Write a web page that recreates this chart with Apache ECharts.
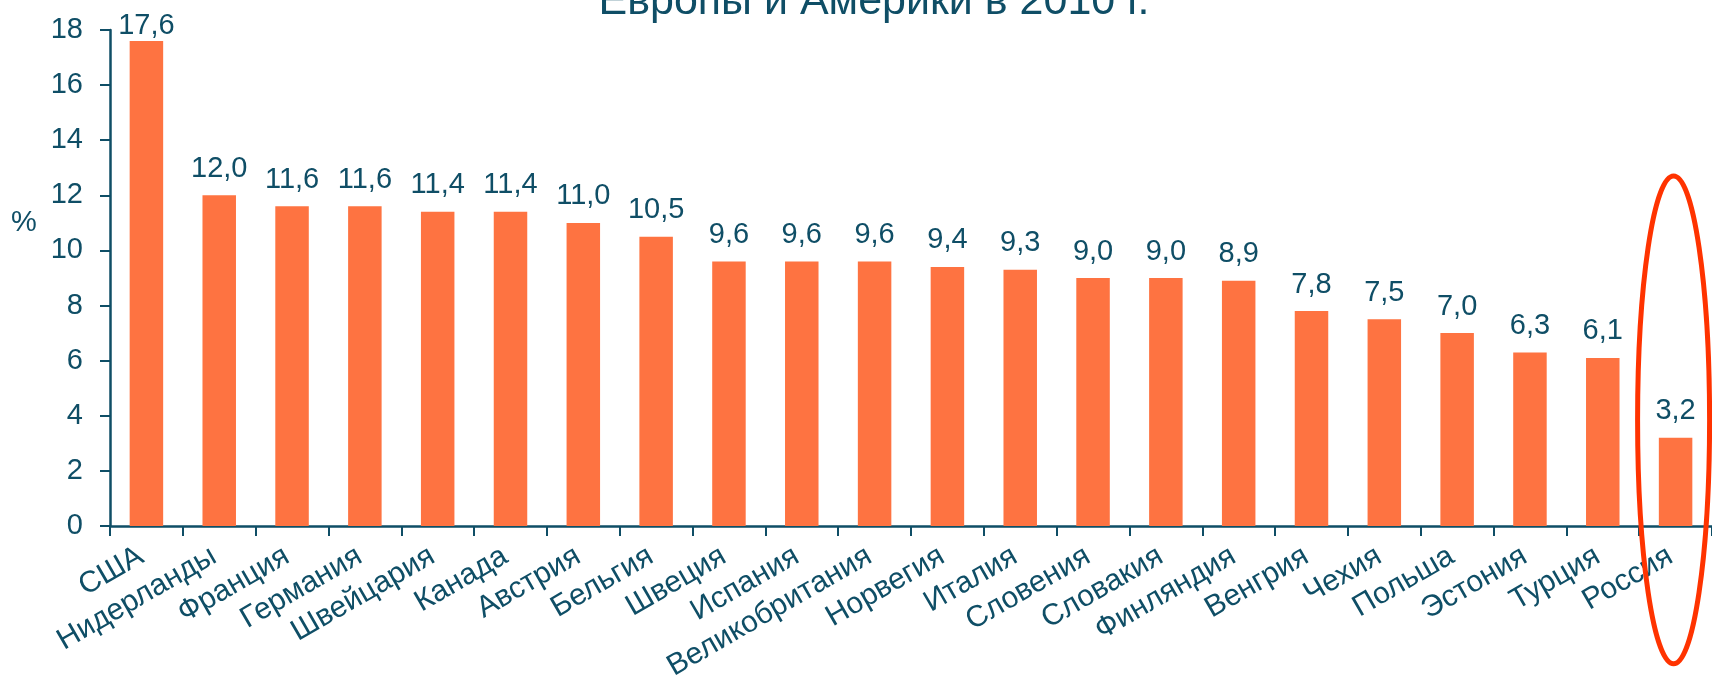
<!DOCTYPE html>
<html lang="ru">

<head>
    <meta charset="UTF-8">
    <script src="https://cdn.jsdelivr.net/npm/echarts@6/dist/echarts.min.js"></script>
    <title>Расходы на здравоохранение</title>
    <style>
        html, body { margin: 0; padding: 0; background: #fff; }
        #myChart { width: 1712px; height: 680px; }
    </style>
</head>

<body>
    <div id="myChart"></div>
    <script>
        var countries = ['США', 'Нидерланды', 'Франция', 'Германия', 'Швейцария', 'Канада', 'Австрия',
            'Бельгия', 'Швеция', 'Испания', 'Великобритания', 'Норвегия', 'Италия', 'Словения',
            'Словакия', 'Финляндия', 'Венгрия', 'Чехия', 'Польша', 'Эстония', 'Турция', 'Россия'];
        var values = [17.6, 12.0, 11.6, 11.6, 11.4, 11.4, 11.0, 10.5, 9.6, 9.6, 9.6, 9.4, 9.3, 9.0,
            9.0, 8.9, 7.8, 7.5, 7.0, 6.3, 6.1, 3.2];
        var yTicks = [0, 18, 2]; // min, max, interval
        var highlighted = 'Россия';
        var titleText = 'Европы и Америки в 2010 г.';

        var textColor = '#0F4E66';
        var font = 'Liberation Sans';
        var fs = 29;

        var dom = document.getElementById('myChart');
        var myChart = echarts.init(dom);

        // the tallest bar has its label pushed down close to the bar top
        var barData = values.map(function (v, i) {
            if (i === 0) {
                return { value: v, label: { distance: 1 } };
            }
            return v;
        });

        var option = {
            animation: false,
            textStyle: { fontFamily: font },
            grid: {
                left: 110,
                right: 0,
                top: 30,
                bottom: 154,
                containLabel: false,
                outerBoundsMode: 'none'
            },
            xAxis: {
                type: 'category',
                data: countries,
                axisLine: { lineStyle: { color: textColor, width: 2.5 } },
                axisTick: { show: true, length: 10, lineStyle: { color: textColor, width: 2 } },
                axisLabel: {
                    rotate: 30,
                    margin: 25,
                    padding: [0, 6, 0, 0],
                    interval: 0,
                    color: textColor,
                    fontSize: 30,
                    fontFamily: font
                }
            },
            yAxis: {
                type: 'value',
                min: yTicks[0],
                max: yTicks[1],
                interval: yTicks[2],
                splitLine: { show: false },
                axisLine: { show: true, lineStyle: { color: textColor, width: 2.5 } },
                axisTick: { show: true, length: 10, lineStyle: { color: textColor, width: 2 } },
                axisLabel: { margin: 27, color: textColor, fontSize: fs, fontFamily: font }
            },
            series: [{
                type: 'bar',
                data: barData,
                barWidth: '46%',
                itemStyle: { color: '#FE7341' },
                label: {
                    show: true,
                    position: 'top',
                    distance: 12,
                    color: textColor,
                    fontSize: fs,
                    fontFamily: font,
                    formatter: function (p) {
                        return p.value.toFixed(1).replace('.', ',');
                    }
                }
            }]
        };
        myChart.setOption(option);

        // red ellipse round the highlighted country
        var cx = myChart.convertToPixel({ xAxisIndex: 0 }, highlighted);
        var yTop = myChart.convertToPixel({ yAxisIndex: 0 }, 12.7);
        var yBottom = myChart.convertToPixel({ yAxisIndex: 0 }, -5.0);
        myChart.setOption({
            graphic: [{
                // second line of the title, its top runs off the picture
                type: 'text',
                x: 874,
                y: 2,
                style: {
                    text: titleText,
                    fill: textColor,
                    font: '43px "' + font + '"',
                    align: 'center',
                    verticalAlign: 'middle'
                }
            }, {
                type: 'text',
                left: 11,
                top: 208,
                style: { text: '%', fill: textColor, font: fs + 'px "' + font + '"' }
            }, {
                type: 'ellipse',
                shape: { cx: cx - 2, cy: (yTop + yBottom) / 2, rx: 36, ry: (yBottom - yTop) / 2 },
                style: { fill: 'none', stroke: '#FF3300', lineWidth: 5 },
                z: 100
            }]
        });
    </script>
</body>

</html>
